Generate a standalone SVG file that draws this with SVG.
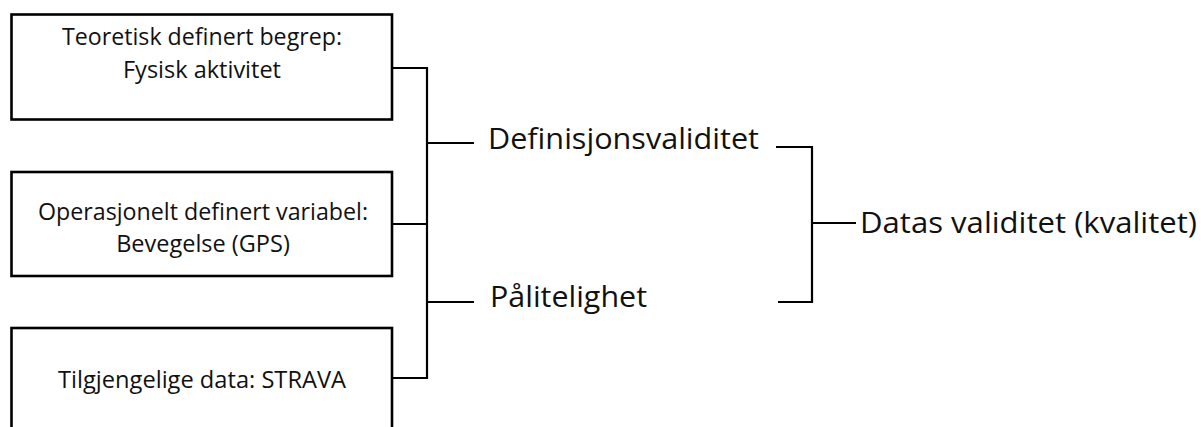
<svg xmlns="http://www.w3.org/2000/svg" width="1201" height="427" viewBox="0 0 1201 427">
  <style>
    .box { fill: #ffffff; stroke: #000000; stroke-width: 2.6; }
    .wire { fill: none; stroke: #000000; stroke-width: 2.2; stroke-linejoin: miter; }
    .t { font-family: "Open Sans", "Liberation Sans", sans-serif; fill: #111111; }
    .small { font-size: 23.5px; text-anchor: middle; }
    .big { font-size: 29px; }
  </style>
  <rect width="1201" height="427" fill="#ffffff"/>

  <!-- connectors -->
  <g id="connectors">
    <path class="wire" d="M392 68 H427 V378 H392"/>
    <path class="wire" d="M392 224 H427"/>
    <path class="wire" d="M427 143 H474"/>
    <path class="wire" d="M427 302 H474"/>
    <path class="wire" d="M776 147 H812 V302 H778"/>
    <path class="wire" d="M812 223 H856"/>
  </g>

  <g id="node-theory">
    <rect class="box" x="11.5" y="14.5" width="380.5" height="105"/>
    <text class="t small" x="202" y="45" textLength="280" lengthAdjust="spacingAndGlyphs">Teoretisk definert begrep:</text>
    <text class="t small" x="202" y="78">Fysisk aktivitet</text>
  </g>

  <g id="node-operational">
    <rect class="box" x="11.5" y="172" width="380.5" height="104"/>
    <text class="t small" x="203" y="220" textLength="330" lengthAdjust="spacingAndGlyphs">Operasjonelt definert variabel:</text>
    <text class="t small" x="203" y="252">Bevegelse (GPS)</text>
  </g>

  <g id="node-data">
    <rect class="box" x="11.5" y="328" width="380.5" height="106"/>
    <text class="t small" x="202" y="388" textLength="288" lengthAdjust="spacingAndGlyphs">Tilgjengelige data: STRAVA</text>
  </g>

  <g id="node-definition-validity">
    <text class="t big" x="488" y="149" textLength="271" lengthAdjust="spacingAndGlyphs">Definisjonsvaliditet</text>
  </g>

  <g id="node-reliability">
    <text class="t big" x="490" y="307" textLength="157" lengthAdjust="spacingAndGlyphs">Pålitelighet</text>
  </g>

  <g id="node-data-validity">
    <text class="t big" x="860" y="233" textLength="337" lengthAdjust="spacingAndGlyphs">Datas validitet (kvalitet)</text>
  </g>
</svg>
